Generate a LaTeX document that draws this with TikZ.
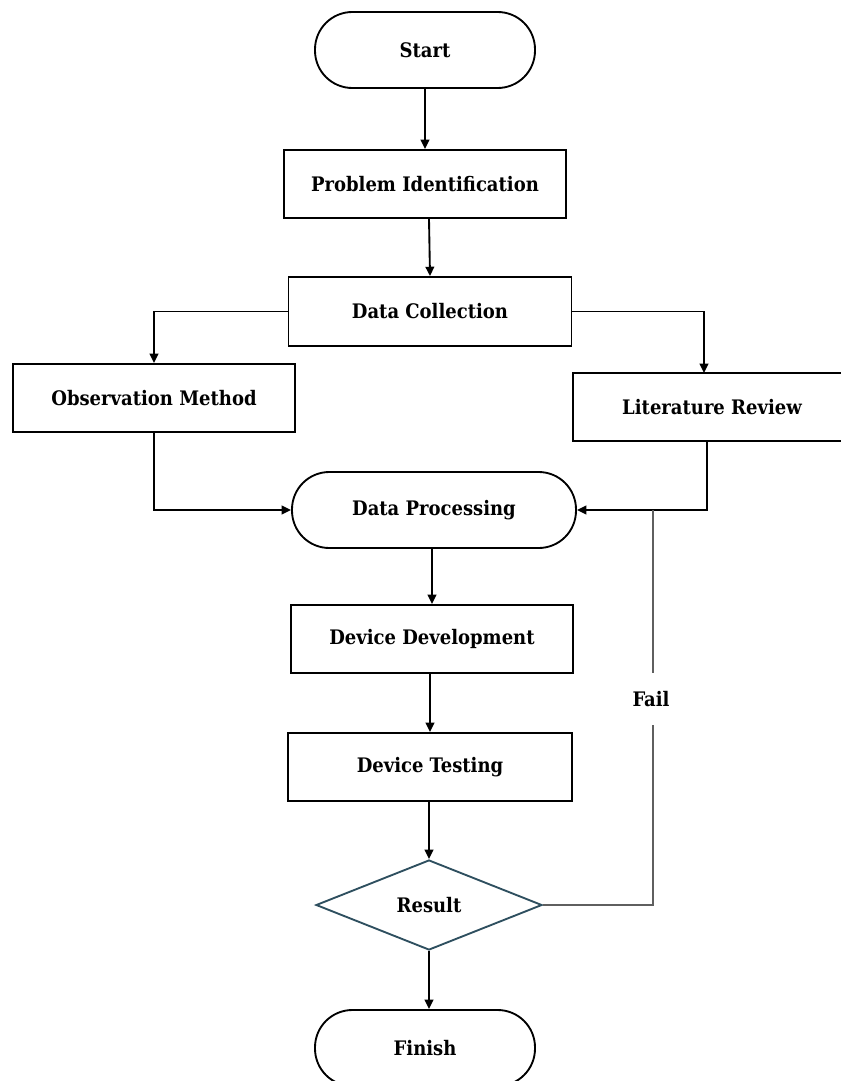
\documentclass[tikz,border=0pt]{standalone}
\usepackage{fontspec}
\setmainfont{DejaVu Serif Condensed}
\usetikzlibrary{arrows.meta,shapes.geometric,calc}
\definecolor{diamondcol}{RGB}{46,79,95}
\definecolor{loopcol}{RGB}{95,95,95}
\begin{document}
\begin{tikzpicture}[x=0.75pt,y=-0.75pt,
  every node/.style={font=\fontsize{15}{17}\selectfont\bfseries, inner sep=0pt},
  boxnode/.style={draw, line width=1.4pt, rectangle, minimum height=51pt},
  termnode/.style={draw, line width=1.4pt, rectangle, rounded corners=28pt, minimum height=57pt},
  decnode/.style={draw=diamondcol, line width=1.4pt, diamond, aspect=2.5, minimum width=169.5pt, minimum height=67.5pt},
  arr/.style={line width=1.4pt, -{Triangle[length=7pt,width=6.5pt]}},
  loopln/.style={line width=1.4pt, draw=loopcol}]
\useasboundingbox (0,0) rectangle (841,1081);

\node[termnode, minimum width=165pt] (start) at (425,50) {Start};
\node[boxnode, minimum width=211.5pt] (pi) at (425,184) {Problem Identification};
\node[boxnode, minimum width=212.25pt, minimum height=51.75pt] (dc) at (430,311.5) {Data Collection};
\node[boxnode, minimum width=211.5pt] (obs) at (154,398) {Observation Method};
\node[boxnode, minimum width=208.5pt] (lr) at (712,407) {Literature Review};
\node[termnode, minimum width=213pt] (dp) at (434,510) {Data Processing};
\node[boxnode, minimum width=211.5pt] (dd) at (432,639) {Device Development};
\node[boxnode, minimum width=213pt] (dt) at (430,767) {Device Testing};
\node[decnode] (res) at (429,905) {Result};
\node[termnode, minimum width=165pt] (fin) at (425,1048) {Finish};

\coordinate (lrin) at (704,373);
\coordinate (lrout) at (707,441);
\coordinate (loopbot) at (653,905);
\coordinate (looptop) at (653,510);

\draw[arr] (start.south) -- (start.south |- pi.north);
\draw[arr] ($(pi.south)+(4,0)$) -- (dc.north);
\draw[arr] (dc.west) -| (obs.north);
\draw[arr] (dc.east) -| (lrin);
\draw[arr] (obs.south) |- (dp.west);
\draw[arr] (lrout) |- (dp.east);
\draw[arr] (dp.south -| dd.north) -- (dd.north);
\draw[arr] (dd.south -| dt.north) -- (dt.north);
\draw[arr] (dt.south -| res.north) -- (res.north);
\draw[arr] (res.south) -- (res.south |- fin.north);
\draw[loopln] (res.east) -- (loopbot) -- (looptop);
\node[fill=white, minimum height=39pt, minimum width=30pt] (fail) at (651,699) {Fail};
\end{tikzpicture}
\end{document}
